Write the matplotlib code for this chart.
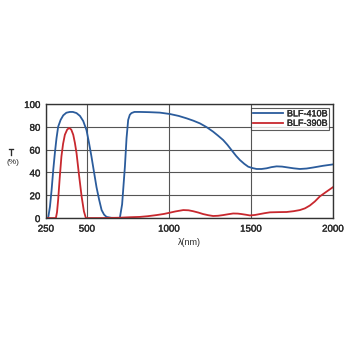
import matplotlib
matplotlib.use("Agg")
import matplotlib.pyplot as plt
import matplotlib.patheffects as pe

# BLF-410B transmission (wavelength nm, T %)
blf410_wl = [255, 264, 275, 285, 295, 305, 315, 325, 340, 356, 375, 396, 415, 437, 458, 478, 498,
             513, 528, 544, 559, 575, 590, 605, 620, 650, 701, 715, 732, 742, 752, 762, 772, 790,
             823, 880, 945, 1006, 1060, 1108, 1150, 1189, 1230, 1270, 1300, 1331, 1357, 1382, 1410,
             1433, 1460, 1484, 1510, 1535, 1565, 1596, 1625, 1657, 1690, 1718, 1760, 1799, 1840,
             1880, 1940, 2000]
blf410_t = [0, 0, 10, 24.5, 42, 57, 70, 80, 86, 90, 92.3, 93, 93, 92, 89.5, 85, 77,
            66, 54, 40, 27, 16, 7, 3, 1, 0.2, 0, 12, 45, 70, 86, 90.5, 92, 93,
            93, 92.8, 92.4, 91.2, 89.5, 87.4, 85.3, 83, 79.7, 75.7, 72.2, 68.4, 64.2, 59.6, 54.5,
            50.9, 47.5, 45, 43.8, 43, 43, 43.6, 44.6, 45.3, 45.1, 44.5, 43.6, 43, 43.4,
            44.3, 45.8, 47]

# BLF-390B transmission
blf390_wl = [250, 311, 318, 325, 335, 345, 355, 366, 380, 392, 405, 417, 427, 437, 452, 468, 482,
             494, 520, 600, 701, 760, 823, 870, 925, 970, 1006, 1040, 1088, 1120, 1148, 1180, 1209,
             1240, 1270, 1300, 1331, 1360, 1392, 1420, 1443, 1470, 1494, 1525, 1555, 1585, 1616,
             1670, 1718, 1760, 1799, 1830, 1860, 1890, 1921, 1960, 2000]
blf390_t = [0, 0, 5, 16, 36, 54, 65, 73, 77.5, 79, 77.5, 73, 66, 57, 38, 19, 6,
            0, 0, 0, 0.3, 0.7, 1, 1.6, 2.6, 3.6, 4.7, 5.8, 7, 6.8, 6, 4.8, 3.5,
            2.5, 1.8, 2, 2.6, 3.3, 4, 3.9, 3.5, 2.9, 2.3, 2.7, 3.5, 4.3, 5,
            5.2, 5.3, 6, 7, 8.5, 11, 14.5, 19, 23, 27]

plt.rcParams["font.family"] = ["Liberation Sans", "DejaVu Sans"]
txt_col = "#2a2a2a"
thick = [pe.withStroke(linewidth=0.25, foreground=txt_col)]

fig = plt.figure(figsize=(3.5, 3.5), dpi=100)
ax = fig.add_axes([0.131, 0.377, 0.82, 0.326])

ax.plot(blf410_wl, blf410_t, color="#2b5c9c", linewidth=1.3, label="BLF-410B")
ax.plot(blf390_wl, blf390_t, color="#c8282e", linewidth=1.3, label="BLF-390B")

ax.set_xlim(250, 2000)
ax.set_ylim(0, 100)
ax.set_xticks([250, 500, 1000, 1500, 2000])
ax.set_yticks([0, 20, 40, 60, 80, 100])
ax.tick_params(length=0, labelsize=7, pad=4, colors=txt_col)
for lbl in ax.get_xticklabels() + ax.get_yticklabels():
    lbl.set_path_effects(thick)
ax.xaxis.grid(True, color="#555555", linewidth=0.8)
ax.yaxis.grid(True, color="#555555", linewidth=0.8)
for spine in ax.spines.values():
    spine.set_color("#333333")
    spine.set_linewidth(1.0)

ax.set_xlabel("λ(nm)", fontsize=6.5, labelpad=3, color=txt_col)
fig.text(0.033, 0.564, "T", fontsize=7, ha="center", va="center", color=txt_col, path_effects=thick)
fig.text(0.036, 0.537, "(%)", fontsize=6, ha="center", va="center", color=txt_col)

leg = ax.legend(loc="upper right", fontsize=6.5, frameon=True, fancybox=False,
                edgecolor="#333333", borderpad=0.2, labelspacing=0.05,
                handlelength=3.4, handletextpad=0.4, borderaxespad=0.4)
leg.get_frame().set_linewidth(0.8)
for txt in leg.get_texts():
    txt.set_color(txt_col)
    txt.set_path_effects(thick)

fig.savefig("out.png", dpi=100)
